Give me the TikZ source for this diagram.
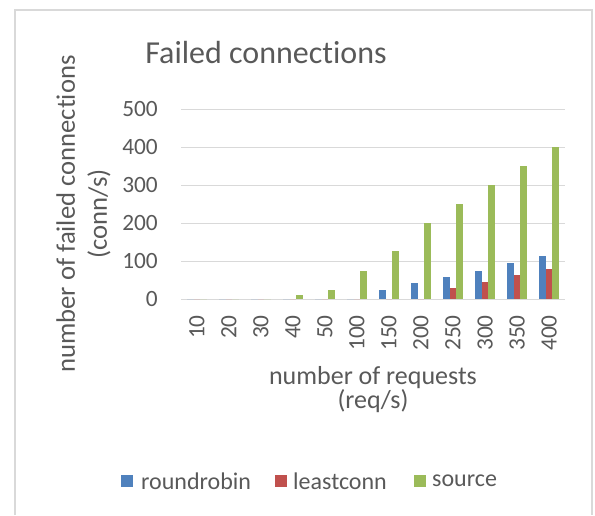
\documentclass[tikz,border=0pt]{standalone}
\usepackage{fontspec}
\setmainfont{Carlito}[RawFeature={-liga,-clig,-dlig,-calt}]
\usetikzlibrary{positioning}

\begin{document}
\begin{tikzpicture}
	[x=0.75pt,y=-0.75pt,
	%Styles
	grid line/.style={gridgray,line width=0.75pt},
	frame line/.style={framegray,line width=1.5pt},
	chart text/.style={text=textgray,inner sep=0pt,font=\fontsize{17.5}{21}\selectfont},
	title text/.style={text=textgray,inner sep=0pt,font=\fontsize{24}{28}\selectfont},
	key box/.style={fill=#1,inner sep=0pt,minimum size=9.5pt}
	]
	
	%Colors
	\definecolor{textgray}{HTML}{595959}
	\definecolor{gridgray}{HTML}{D9D9D9}
	\definecolor{framegray}{HTML}{D9D9D9}
	\definecolor{rrblue}{HTML}{4F81BD}
	\definecolor{lcred}{HTML}{C0504D}
	\definecolor{srcgreen}{HTML}{9BBB59}
	
	\useasboundingbox (0,0) rectangle (595,515);
	
	%Frame
	\draw[frame line] (15,515) -- (15,10) -- (592,10) -- (592,515);
	
	%The graphic
	\node[title text,anchor=base] (title) at (266,63) {Failed connections};
	
	\foreach \v [count=\k from 0] in {0,100,...,500}{
		\draw[grid line] (181,299-38*\k) -- (565,299-38*\k);
		\node[chart text,anchor=east] (ytick\k) at (158,299-38*\k) {\v};
	}
	
	\foreach \req/\rr/\lc/\src [count=\i] in {10/0/0/0,20/0/0/0,30/0/0/0,40/0/0/10,50/0/0/25,100/0/0/75,150/25/0/126,200/42/0/200,250/59/29/250,300/75/46/300,350/95/62/350,400/113/79/400}{
		\pgfmathsetmacro{\cx}{181+(\i-0.5)*32}
		\fill[rrblue] (\cx-9.8,299) rectangle (\cx-3.4,299-0.38*\rr);
		\fill[lcred] (\cx-3.2,299) rectangle (\cx+3.2,299-0.38*\lc);
		\fill[srcgreen] (\cx+3.4,299) rectangle (\cx+9.8,299-0.38*\src);
		\node[chart text,rotate=90,anchor=east] (xtick\i) at (\cx,315) {\req};
	}
	
	\node[chart text,rotate=90,align=center,font=\fontsize{20}{24}\selectfont] (ytitle) at (83.5,214) {number of failed connections\\(conn/s)};
	\node[chart text,align=center,font=\fontsize{19.5}{18}\selectfont] (xtitle) at (373,390) {number of requests\\(req/s)};
	
	%Legend
	\node[key box=rrblue] (keyrr) at (127,481) {};
	\node[chart text,font=\fontsize{18}{21}\selectfont,right=5.5pt of keyrr] (labrr) {roundrobin};
	\node[key box=lcred] (keylc) at (281,481) {};
	\node[chart text,font=\fontsize{18}{21}\selectfont,right=4pt of keylc] (lablc) {leastconn};
	\node[key box=srcgreen] (keysrc) at (420,481) {};
	\node[chart text,font=\fontsize{18}{21}\selectfont,right=4pt of keysrc] (labsrc) {source};
\end{tikzpicture}
\end{document}
